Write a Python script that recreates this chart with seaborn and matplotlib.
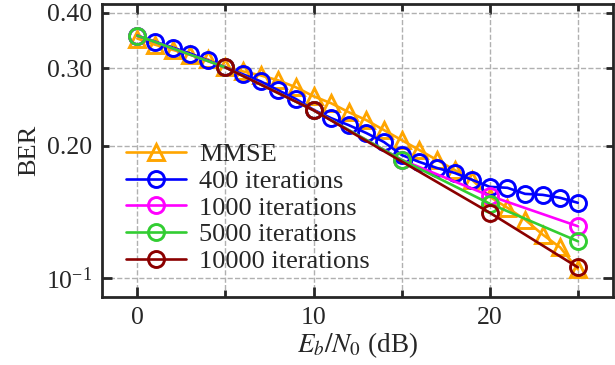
import matplotlib
matplotlib.use('Agg')
from matplotlib import pyplot as plt
from matplotlib.ticker import FixedLocator, FuncFormatter, MultipleLocator
import seaborn as sns

# Eb/N0 (dB)
snr = list(range(26))
snr_coarse = [0, 5, 10, 15, 20, 25]
snr_10000 = [5, 10, 20, 25]

ber_mmse = [0.350, 0.339, 0.330, 0.322, 0.314, 0.301, 0.2948, 0.2887, 0.2813, 0.2713,
            0.2589, 0.2496, 0.2382, 0.2285, 0.2169, 0.2059, 0.1955, 0.1856, 0.1762, 0.1673,
            0.1531, 0.1446, 0.1359, 0.1257, 0.1175, 0.1048]
ber_400 = [0.3554, 0.3444, 0.3340, 0.3237, 0.3122, 0.3010, 0.2903, 0.2799, 0.2671, 0.2552,
           0.2412, 0.2309, 0.2226, 0.2136, 0.2038, 0.1905, 0.1837, 0.1780, 0.1735, 0.1673,
           0.1613, 0.1605, 0.1555, 0.1547, 0.1523, 0.1484]
ber_1000 = [0.3554, 0.3010, 0.2407, 0.1857, 0.1539, 0.1313]
ber_5000 = [0.3554, 0.3010, 0.2407, 0.1857, 0.1477, 0.1214]
ber_10000 = [0.3010, 0.2407, 0.1409, 0.1059]

sns.set_style('ticks')
plt.rcParams['font.family'] = ['Liberation Serif', 'DejaVu Serif']
plt.rcParams['mathtext.fontset'] = 'stix'

fig, ax = plt.subplots(figsize=(6.15, 3.65), dpi=100)
fig.subplots_adjust(left=0.166, right=0.997, top=0.99, bottom=0.185)

series = [
    (snr, ber_mmse, '#FFA500', '^', 'MMSE'),
    (snr, ber_400, '#0000FF', 'o', '400 iterations'),
    (snr_coarse, ber_1000, '#FF00FF', 'o', '1000 iterations'),
    (snr_coarse, ber_5000, '#32CD32', 'o', '5000 iterations'),
    (snr_10000, ber_10000, '#8B0000', 'o', '10000 iterations'),
]
for x, y, c, m, lab in series:
    sns.lineplot(x=x, y=y, color=c, label=lab, ax=ax)
    ln = ax.lines[-1]
    ln.set(marker=m, markersize=11.5, markerfacecolor='none', markeredgecolor=c,
           markeredgewidth=2.1, linewidth=1.9, linestyle='-')

ax.set_yscale('log')
ax.set_xlim(-2, 27)
ax.set_ylim(0.0905, 0.42)
ax.xaxis.set_major_locator(MultipleLocator(10))
ax.xaxis.set_minor_locator(MultipleLocator(5))
ax.yaxis.set_minor_locator(FixedLocator([0.2, 0.3, 0.4]))
ax.yaxis.set_minor_formatter(FuncFormatter(lambda v, p: f'{v:.2f}'))

ax.grid(True, which='both', linestyle='--', color='#b0b0b0', linewidth=1.0)
for s in ax.spines.values():
    s.set_linewidth(2.0)
ax.tick_params(which='both', direction='in', top=True, right=True, labelsize=18.5, pad=7, width=2.0)
ax.tick_params(which='major', length=7)
ax.tick_params(which='minor', length=5)

ax.set_xlabel('$E_b/N_0$ (dB)', fontsize=19.5, labelpad=1)
ax.set_ylabel('BER', fontsize=19, labelpad=4)

ax.legend(ax.lines, [s[4] for s in series], loc='lower left', bbox_to_anchor=(0.015, 0.03),
          frameon=False, fontsize=19, handlelength=2.3, handletextpad=0.5,
          labelspacing=0.12, borderaxespad=0.2)

plt.savefig('out.png', dpi=100)
